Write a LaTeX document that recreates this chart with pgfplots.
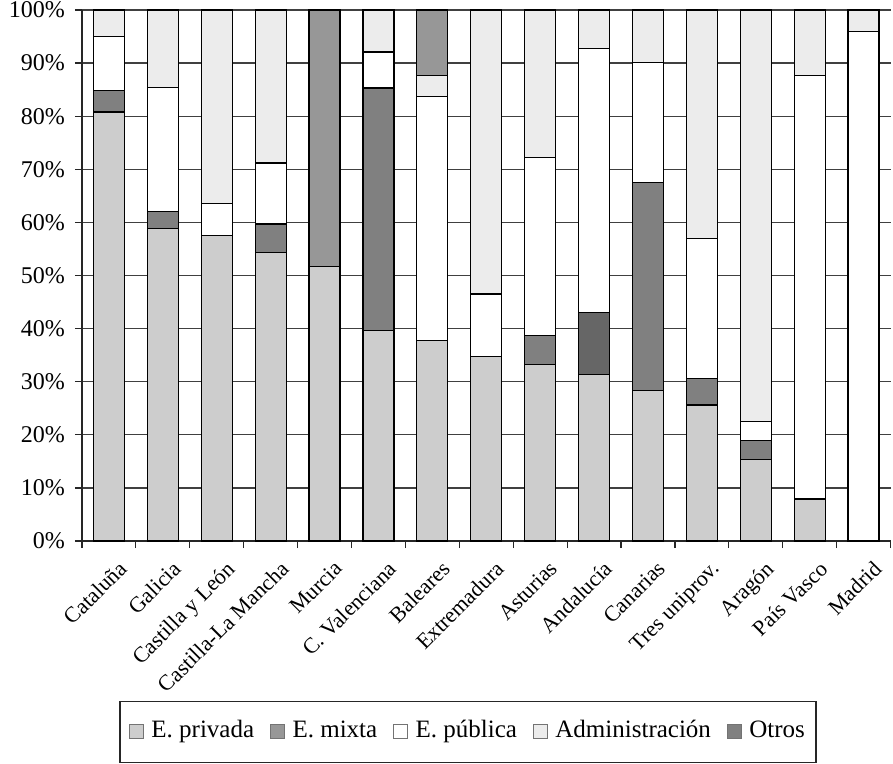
\documentclass[border=0pt]{standalone}
\usepackage{fontspec}
\setmainfont{Liberation Serif}
\usepackage{pgfplots}
\pgfplotsset{compat=1.18}
\usepackage{pgfplotstable}

\definecolor{priv}{HTML}{CDCDCD}
\definecolor{mixta}{HTML}{979797}
\definecolor{admin}{HTML}{ECECEC}
\definecolor{otros}{HTML}{808080}
\definecolor{otrosb}{HTML}{666666}

% order of the stack as drawn: privada, otros, (otros dark), publica, admin, mixta
\pgfplotstableread{
x  priv  otros otrosb publ admin mixta
0  80.8  4.0   0      10.2 5.0   0
1  58.9  3.1   0      23.4 14.6  0
2  57.5  0     0      6.0  36.5  0
3  54.4  5.3   0      11.5 28.8  0
4  51.7  0     0      0    0     48.3
5  39.7  45.6  0      6.8  7.9   0
6  37.7  0     0      46.0 3.9   12.4
7  34.7  0     0      11.8 53.5  0
8  33.2  5.5   0      33.5 27.8  0
9  31.3  0     11.8   49.6 7.3   0
10 28.4  39.1  0      22.6 9.9   0
11 25.6  5.0   0      26.4 43.0  0
12 15.4  3.6   0      3.5  77.5  0
13 7.9   0     0      79.7 12.4  0
14 0     0     0      95.9 4.1   0
}\datos

\begin{document}
\begin{tikzpicture}
\begin{axis}[
    at={(0,0)}, anchor=south west,
    scale only axis,
    width=808.5pt, height=531pt,
    xmin=-0.5, xmax=14.5,
    ymin=0, ymax=100,
    ybar stacked,
    bar width=31pt,
    axis x line*=bottom,
    axis y line*=left,
    axis line style={line width=1.2pt, black!85, -},
    tick style={line width=1.2pt, black!85},
    tick align=outside,
    major tick length=7pt,
    ytick={0,10,...,100},
    yticklabels={0\%,10\%,20\%,30\%,40\%,50\%,60\%,70\%,80\%,90\%,100\%},
    ymajorgrids,
    grid style={line width=1.2pt, black!75},
    xtick={-0.5,0.5,...,14.5},
    xticklabels={},
    extra x ticks={0,...,14},
    extra x tick labels={Cataluña,Galicia,Castilla y León,Castilla-La Mancha,Murcia,C. Valenciana,Baleares,Extremadura,Asturias,Andalucía,Canarias,Tres uniprov.,Aragón,País Vasco,Madrid},
    extra x tick style={major tick length=0pt, grid=none},
    xticklabel style={rotate=45, anchor=north east, inner sep=2pt, yshift=-17pt, xshift=-5pt,
        font=\fontsize{22}{26}\selectfont},
    yticklabel style={font=\fontsize{24}{28}\selectfont, inner sep=3pt, xshift=-7pt},
    legend style={at={(0.4774,-0.3013)}, anchor=north, draw=black!85, line width=1.2pt,
        font=\fontsize{25}{30}\selectfont, inner xsep=9pt, inner ysep=17pt,
        nodes={text height=17pt, text depth=6pt},
        /tikz/every even column/.append style={column sep=14pt}},
    legend columns=-1,
    legend image code/.code={\draw[#1, draw=black!55, line width=0.8pt] (0pt,-6pt) rectangle (14pt,8pt);
        \path[draw=none, fill=none] (0pt,0pt) rectangle (20pt,1pt);},
]
\addplot [fill=priv, draw=black, line width=1.2pt, forget plot] table [x=x, y=priv] {\datos};
\addplot [fill=otros, draw=black, line width=1.2pt, forget plot] table [x=x, y=otros] {\datos};
\addplot [fill=otrosb, draw=black, line width=1.2pt, forget plot] table [x=x, y=otrosb] {\datos};
\addplot [fill=white, draw=black, line width=1.2pt, forget plot] table [x=x, y=publ] {\datos};
\addplot [fill=admin, draw=black, line width=1.2pt, forget plot] table [x=x, y=admin] {\datos};
\addplot [fill=mixta, draw=black, line width=1.2pt, forget plot] table [x=x, y=mixta] {\datos};
\addlegendimage{fill=priv}
\addlegendentry{E. privada}
\addlegendimage{fill=mixta}
\addlegendentry{E. mixta}
\addlegendimage{fill=white}
\addlegendentry{E. pública}
\addlegendimage{fill=admin}
\addlegendentry{Administración}
\addlegendimage{fill=otros}
\addlegendentry{Otros}
\end{axis}
\pgfresetboundingbox
\path (-82pt,-222pt) rectangle (811pt,541pt);
\end{tikzpicture}
\end{document}
